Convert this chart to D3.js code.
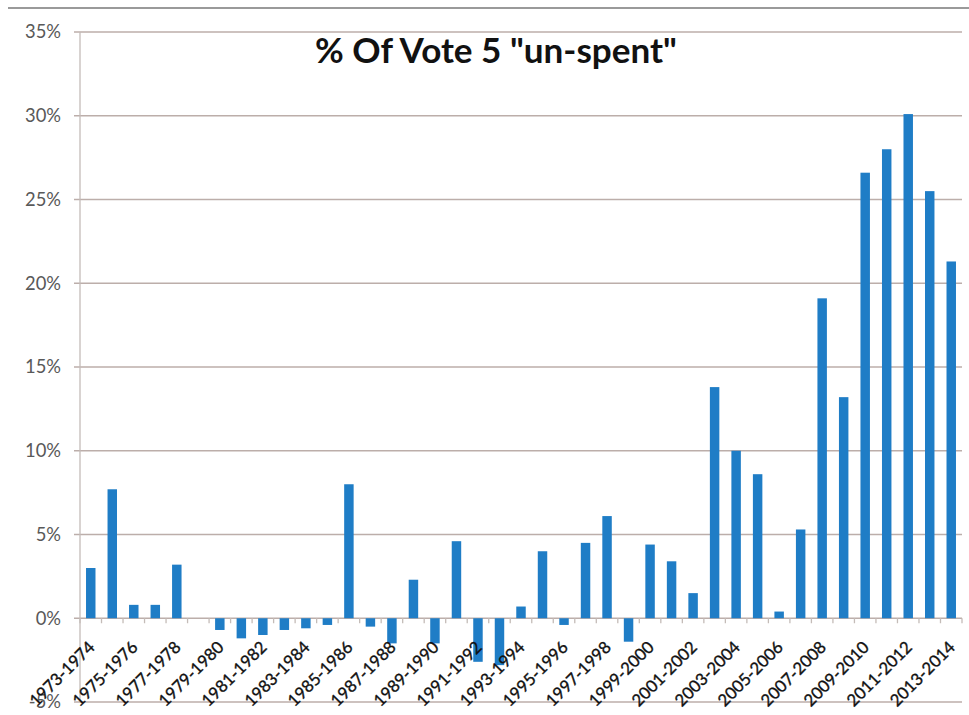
<!DOCTYPE html>
<html>
<head>
<meta charset="utf-8">
<script src="https://cdn.jsdelivr.net/npm/d3@7"></script>
<style>
  html, body { margin: 0; padding: 0; background: #ffffff; }
  svg { display: block; }
</style>
</head>
<body>
<svg id="chart" width="969" height="715"></svg>
<script>
const categories = [
  "1973-1974","1974-1975","1975-1976","1976-1977","1977-1978","1978-1979",
  "1979-1980","1980-1981","1981-1982","1982-1983","1983-1984","1984-1985",
  "1985-1986","1986-1987","1987-1988","1988-1989","1989-1990","1990-1991",
  "1991-1992","1992-1993","1993-1994","1994-1995","1995-1996","1996-1997",
  "1997-1998","1998-1999","1999-2000","2000-2001","2001-2002","2002-2003",
  "2003-2004","2004-2005","2005-2006","2006-2007","2007-2008","2008-2009",
  "2009-2010","2010-2011","2011-2012","2012-2013","2013-2014"
];
const values = [
  3.0, 7.7, 0.8, 0.8, 3.2, 0.0,
  -0.7, -1.2, -1.0, -0.7, -0.6, -0.4,
  8.0, -0.5, -1.5, 2.3, -1.5, 4.6,
  -2.6, -2.8, 0.7, 4.0, -0.4, 4.5,
  6.1, -1.4, 4.4, 3.4, 1.5, 13.8,
  10.0, 8.6, 0.4, 5.3, 19.1, 13.2,
  26.6, 28.0, 30.1, 25.5, 21.3
];
const yTicks = [-5, 0, 5, 10, 15, 20, 25, 30, 35];
const title = '% Of Vote 5 "un-spent"';

const svg = d3.select("#chart");
const mLeft = 80, mRight = 962, mTop = 32, mBottom = 702;
const FONT = "Lato, 'Open Sans', sans-serif";

// size a font so a sample string reaches a target width
function fitSize(sample, target, weight) {
  const t = svg.append("text").attr("font-family", FONT)
    .attr("font-weight", weight || "normal").attr("font-size", 20).text(sample);
  const w = t.node().getComputedTextLength();
  t.remove();
  return 20 * target / w;
}
const xLabelSize = fitSize("1973-1974", 84);
const yLabelSize = fitSize("30%", 36);
const titleSize = fitSize(title, 362, "bold");

// frame line at top
svg.append("line")
  .attr("x1", 8).attr("x2", 969).attr("y1", 8).attr("y2", 8)
  .attr("stroke", "#9a9a9a").attr("stroke-width", 2);

const x = d3.scaleBand().domain(categories).range([mLeft, mRight])
  .paddingInner(0.56).paddingOuter(0.28);
const y = d3.scaleLinear().domain([-5, 35]).range([mBottom, mTop]);

// gridlines
svg.append("g").selectAll("line").data(yTicks).join("line")
  .attr("x1", mLeft - 6).attr("x2", mRight)
  .attr("y1", d => y(d)).attr("y2", d => y(d))
  .attr("stroke", "#bcaeaa").attr("stroke-width", 1.3);

// y axis line
svg.append("line")
  .attr("x1", mLeft).attr("x2", mLeft).attr("y1", mTop).attr("y2", mBottom)
  .attr("stroke", "#c4bcb8").attr("stroke-width", 1.3);

// y tick labels
svg.append("g").selectAll("text").data(yTicks).join("text")
  .attr("x", mLeft - 19).attr("y", d => y(d))
  .attr("dy", "0.35em")
  .attr("text-anchor", "end")
  .attr("font-family", FONT)
  .attr("font-size", yLabelSize)
  .attr("fill", "#595959")
  .text(d => d + "%");

// bars
svg.append("g").selectAll("rect").data(values).join("rect")
  .attr("x", (d, i) => x(categories[i]))
  .attr("width", x.bandwidth())
  .attr("y", d => y(Math.max(0, d)))
  .attr("height", d => Math.abs(y(d) - y(0)))
  .attr("fill", "#1f7dc6");

// x tick marks at category boundaries
const step = x.step();
const boundaries = categories.map(c => x(c) - x.paddingInner() * step / 2)
  .concat([mRight]);
svg.append("g").selectAll("line").data(boundaries).join("line")
  .attr("x1", d => d).attr("x2", d => d)
  .attr("y1", y(0)).attr("y2", y(0) + 5)
  .attr("stroke", "#c4bcb8").attr("stroke-width", 1.3);

// category labels (every other)
svg.append("g").selectAll("text")
  .data(categories.filter((c, i) => i % 2 === 0))
  .join("text")
  .attr("transform", d => `translate(${x(d) + x.bandwidth() / 2 + 5},${y(0) + 30}) rotate(-45)`)
  .attr("text-anchor", "end")
  .attr("font-family", FONT)
  .attr("font-size", xLabelSize)
  .attr("fill", "#111111")
  .attr("stroke", "#111111")
  .attr("stroke-width", 0.35)
  .text(d => d);

// title
svg.append("text")
  .attr("x", 496).attr("y", 63)
  .attr("text-anchor", "middle")
  .attr("font-family", FONT)
  .attr("font-weight", "bold")
  .attr("font-size", titleSize)
  .attr("fill", "#111111")
  .text(title);
</script>
</body>
</html>
